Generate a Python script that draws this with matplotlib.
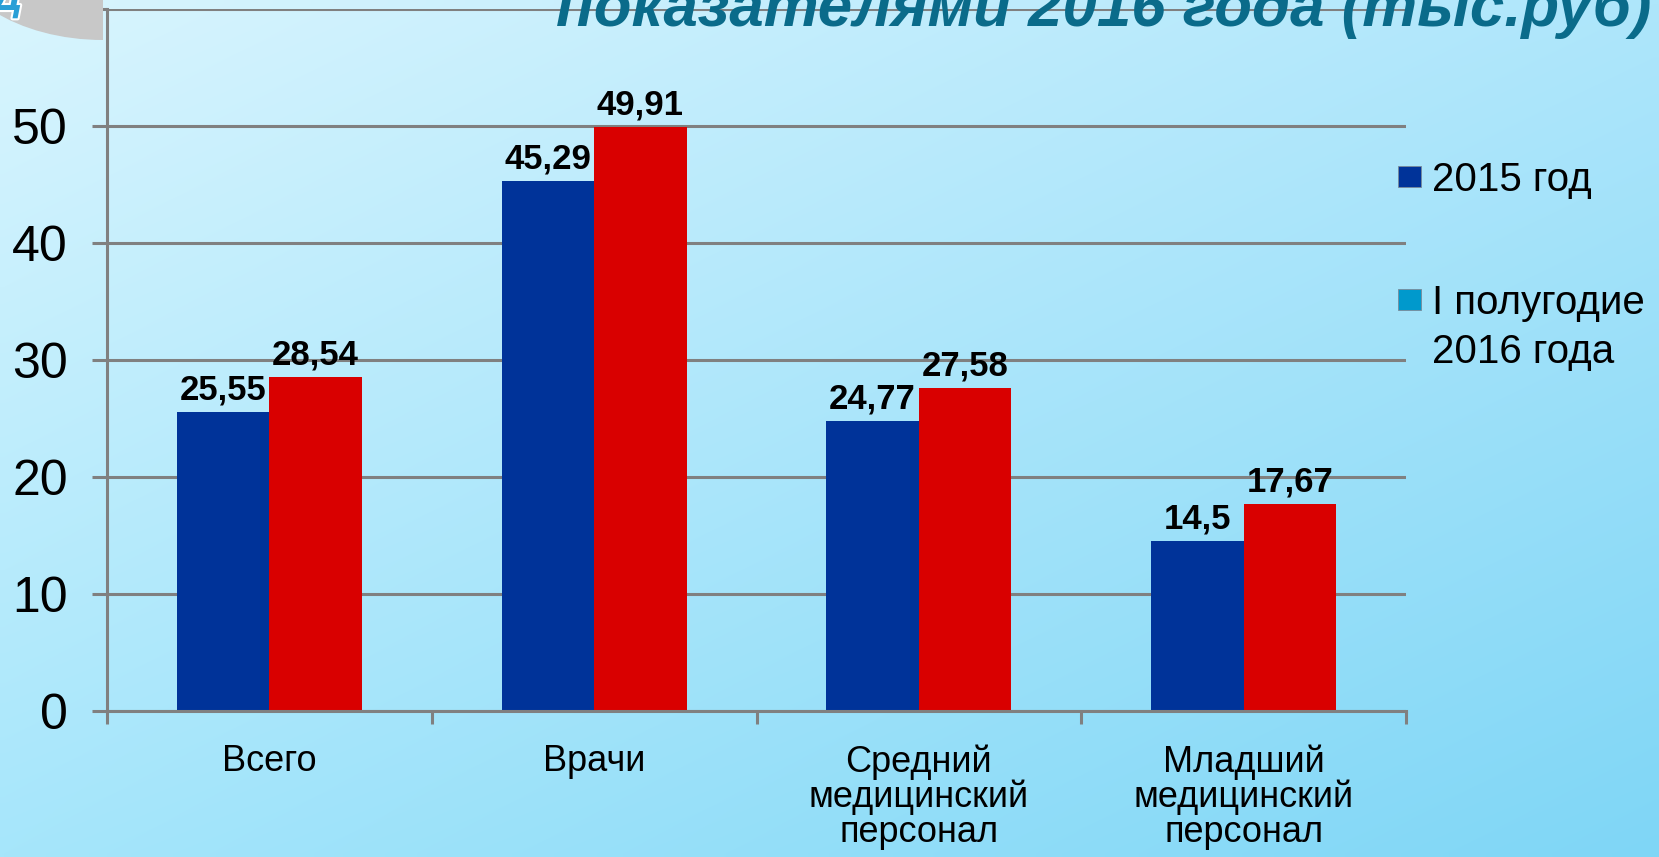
import numpy as np
import matplotlib
matplotlib.use('Agg')
import matplotlib.pyplot as plt
from matplotlib.patches import Ellipse, Rectangle
import matplotlib.patheffects as pe

# ─── Data ────────────────────────────────────────────────────────────────────
categories = ["Всего", "Врачи", "Средний\nмедицинский\nперсонал",
              "Младший\nмедицинский\nперсонал"]
values_2015 = [25.55, 45.29, 24.77, 14.5]
values_2016 = [28.54, 49.91, 27.58, 17.67]
series_names = ["2015 год", "I полугодие", "2016 года"]
y_ticks = [0, 10, 20, 30, 40, 50, 60]
title = "показателями 2016 года (тыс.руб)"

# ─── Style ───────────────────────────────────────────────────────────────────
BLUE = "#003399"
RED = "#d90000"
LEGEND_2016 = "#0099cc"
GRID = "#808080"
TITLE_COLOR = "#0a6b8a"
W, H = 1659, 857

plt.rcParams['font.family'] = ['Liberation Sans', 'DejaVu Sans']

fig = plt.figure(figsize=(W / 100, H / 100), dpi=100)

# background gradient (bilinear between corner colours)
bg = fig.add_axes([0, 0, 1, 1], zorder=-10)
corners = np.array([[[0xd9, 0xf5, 0xfe], [0xae, 0xe6, 0xfb]],
                    [[0xa6, 0xe6, 0xfb], [0x7f, 0xd6, 0xf6]]]) / 255.0
u = np.linspace(0, 1, 200)[None, :, None]
v = np.linspace(0, 1, 120)[:, None, None]
grad = ((1 - v) * (1 - u) * corners[0, 0] + (1 - v) * u * corners[0, 1]
        + v * (1 - u) * corners[1, 0] + v * u * corners[1, 1])
bg.imshow(grad, aspect='auto', extent=[0, 1, 0, 1], interpolation='bilinear')
bg.axis('off')

# ─── Main chart ──────────────────────────────────────────────────────────────
ax = fig.add_axes([107 / W, 1 - 711 / H, (1406 - 107) / W, (711 - 9) / H])
ax.patch.set_alpha(0)

x = np.arange(len(categories))
bw = 0.285
bars1 = ax.bar(x - bw / 2, values_2015, bw, color=BLUE, zorder=2)
bars2 = ax.bar(x + bw / 2, values_2016, bw, color=RED, zorder=2)

for bars, vals in ((bars1, values_2015), (bars2, values_2016)):
    for bar, val in zip(bars, vals):
        ax.annotate(f"{val:g}".replace('.', ','),
                    (bar.get_x() + bar.get_width() / 2, val),
                    xytext=(0, 9), textcoords='offset points',
                    ha='center', va='baseline', fontsize=25, fontweight='bold',
                    color='black', zorder=4)

ax.set_xlim(-0.5, len(categories) - 0.5)
ax.set_ylim(0, 60)
ax.set_yticks(y_ticks)
ax.set_yticklabels([str(t) if t < 60 else '' for t in y_ticks])
ax.yaxis.grid(True, color=GRID, linewidth=2.2)
ax.set_axisbelow(True)

ax.set_xticks(x)
ax.set_xticklabels(categories, fontsize=26, linespacing=1.0)
ax.set_xticks(np.arange(-0.5, len(categories)), minor=True)
ax.tick_params(axis='x', which='major', length=0, pad=24)
ax.tick_params(axis='x', which='minor', length=9, width=2.2, color=GRID)
ax.tick_params(axis='y', length=11, width=2.2, color=GRID, pad=17, labelsize=36)

for side in ('top', 'right'):
    ax.spines[side].set_visible(False)
for side in ('left', 'bottom'):
    ax.spines[side].set_color(GRID)
    ax.spines[side].set_linewidth(2.2)

# ─── Overlay in pixel coordinates: legend, title, slide decoration ───────────
ov = fig.add_axes([0, 0, 1, 1], zorder=5)
ov.set_xlim(0, W)
ov.set_ylim(H, 0)
ov.axis('off')
ov.patch.set_alpha(0)

# legend
for colour, y0 in ((BLUE, 166), (LEGEND_2016, 289)):
    ov.add_patch(Rectangle((1398, y0), 23, 21, facecolor=colour,
                           edgecolor='#7a8a99', linewidth=0.6))
ov.text(1432, 191, series_names[0], fontsize=29, va='baseline', ha='left')
ov.text(1432, 314, series_names[1], fontsize=29, va='baseline', ha='left')
ov.text(1432, 363, series_names[2], fontsize=29, va='baseline', ha='left')

# title (cut off by the top of the picture)
ov.text(1652, 26, title, ha='right', va='baseline', fontsize=44.5,
        fontstyle='italic', fontweight='bold', color=TITLE_COLOR)

# grey corner decoration with a blue glyph
deco = Ellipse((103, -60), 2 * 156, 2 * 100, facecolor='#c8c8c8', edgecolor='none')
ov.add_patch(deco)
deco.set_clip_path(Rectangle((0, 0), 103, H, transform=ov.transData))
ov.text(-8, 10, "Д", fontsize=30, fontweight='bold', fontstyle='italic',
        color='#2a9fd6', va='baseline', ha='left',
        path_effects=[pe.withStroke(linewidth=3, foreground='white')])

fig.savefig('out.png', dpi=100)
